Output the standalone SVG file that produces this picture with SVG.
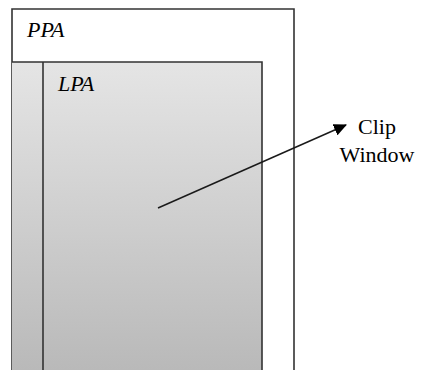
<svg xmlns="http://www.w3.org/2000/svg" width="422" height="370" viewBox="0 0 422 370">
  <style>
    .box { fill: none; stroke: #333333; stroke-width: 1.6; }
    .lbl { font-family: "Liberation Serif", "Times New Roman", serif; font-size: 22px; fill: #000000; }
    .it { font-style: italic; }
    .conn { stroke: #1a1a1a; stroke-width: 1.5; fill: none; }
  </style>
  <defs>
    <linearGradient id="grayGrad" x1="0" y1="62" x2="0" y2="370" gradientUnits="userSpaceOnUse">
      <stop offset="0" stop-color="#e5e5e5"/>
      <stop offset="1" stop-color="#b9b9b9"/>
    </linearGradient>
    <marker id="arrow" markerWidth="13" markerHeight="12" refX="12" refY="6" orient="auto" markerUnits="userSpaceOnUse" viewBox="0 0 13 12">
      <path d="M0,0 L13,6 L0,12 Z" fill="#000000"/>
    </marker>
  </defs>
  <rect x="0" y="0" width="422" height="370" fill="#ffffff"/>
  <g id="ppa">
    <path class="box" d="M12,372 L12,9 L294,9 L294,372"/>
    <text class="lbl it" x="27" y="37">PPA</text>
  </g>
  <g id="lpa">
    <rect x="12" y="62" width="250" height="310" fill="url(#grayGrad)"/>
    <path class="box" d="M12,62 L262,62 L262,372"/>
    <line class="box" x1="43" y1="62" x2="43" y2="372"/>
    <text class="lbl it" x="58" y="91">LPA</text>
  </g>
  <g id="clip-window">
    <text class="lbl" x="377" y="134" text-anchor="middle">Clip</text>
    <text class="lbl" x="377" y="162" text-anchor="middle">Window</text>
  </g>
  <g id="connectors">
    <line class="conn" x1="158" y1="208" x2="346" y2="125" marker-end="url(#arrow)"/>
  </g>
</svg>
